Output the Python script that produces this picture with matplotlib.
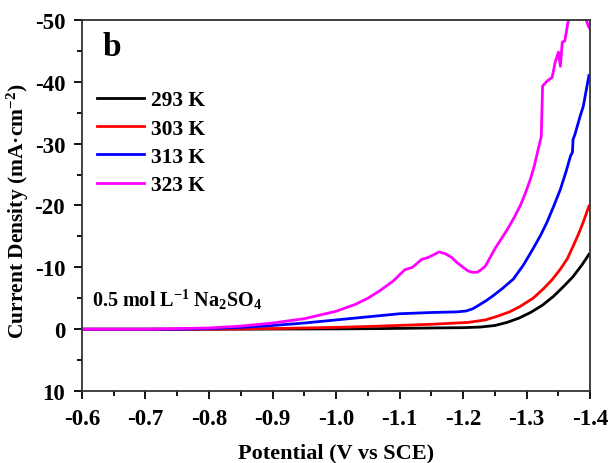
import numpy as np
import matplotlib.pyplot as plt
from matplotlib.ticker import MultipleLocator

plt.rcParams['font.family'] = 'Liberation Serif'
plt.rcParams['font.weight'] = 'bold'
plt.rcParams['axes.unicode_minus'] = False
plt.rcParams['mathtext.fontset'] = 'custom'
plt.rcParams['mathtext.rm'] = 'Liberation Serif:bold'
plt.rcParams['mathtext.bf'] = 'Liberation Serif:bold'
plt.rcParams['mathtext.it'] = 'Liberation Serif:bold'

# Data (potential in V vs SCE, current density in mA/cm2)
v_293 = [-0.6, -0.8, -1.0, -1.07, -1.15, -1.2, -1.227, -1.25, -1.269, -1.288, -1.306, -1.325, -1.342, -1.358, -1.373,
         -1.387, -1.398]
j_293 = [0.0, 0.0, -0.05, -0.1, -0.2, -0.25, -0.35, -0.6, -1.1, -1.8, -2.7, -3.9, -5.3, -6.9, -8.5, -10.4, -12.1]

v_303 = [-0.6, -0.8, -0.9, -1.0, -1.069, -1.15, -1.208, -1.235, -1.254, -1.273, -1.29, -1.31, -1.326, -1.34, -1.353,
         -1.364, -1.373, -1.382, -1.389, -1.398]
j_303 = [0.0, 0.0, -0.1, -0.3, -0.5, -0.8, -1.1, -1.5, -2.1, -2.8, -3.7, -5.0, -6.5, -8.0, -9.7, -11.4, -13.4, -15.5,
         -17.3, -19.9]

v_313 = [-0.6, -0.75, -0.8, -0.85, -0.9, -0.95, -1.0, -1.05, -1.1, -1.15, -1.19, -1.205, -1.215, -1.225, -1.236, -1.247,
         -1.262, -1.279, -1.295, -1.31, -1.322, -1.332, -1.343, -1.353, -1.362, -1.369, -1.372, -1.373, -1.376, -1.384,
         -1.389, -1.394, -1.398]
j_313 = [0.0, 0.0, -0.1, -0.3, -0.6, -1.0, -1.5, -2.0, -2.5, -2.7, -2.8, -2.95, -3.3, -3.9, -4.6, -5.4, -6.6, -8.1,
         -10.4, -13.0, -15.2, -17.3, -20.0, -22.6, -25.5, -28.0, -28.6, -30.7, -31.5, -34.4, -36.0, -38.8, -41.0]

v_323 = [-0.6, -0.7, -0.75, -0.8, -0.85, -0.9, -0.95, -1.0, -1.03, -1.05, -1.07, -1.09, -1.108, -1.12, -1.127, -1.135,
         -1.145, -1.155, -1.162, -1.172, -1.182, -1.19, -1.2, -1.208, -1.215, -1.222, -1.228, -1.235, -1.242, -1.25, -1.26,
         -1.27, -1.28, -1.29, -1.298, -1.306, -1.312, -1.317, -1.321, -1.323, -1.325, -1.332, -1.34, -1.345, -1.35,
         -1.353, -1.356, -1.36, -1.365, -1.37, -1.38, -1.388, -1.393, -1.397, -1.4]
j_323 = [0.0, 0.0, -0.1, -0.2, -0.5, -1.0, -1.7, -2.9, -4.0, -5.0, -6.3, -7.8, -9.6, -10.0, -10.6, -11.3,
         -11.6, -12.1, -12.5, -12.2, -11.6, -10.8, -10.0, -9.4, -9.2, -9.2, -9.6, -10.2, -11.5, -13.0, -14.6,
         -16.2, -18.0, -20.0, -22.0, -24.3, -26.4, -28.6, -30.3, -31.2, -39.3, -40.1, -40.7, -43.2, -44.8,
         -42.5, -46.4, -46.6, -49.6, -51.0, -52.0, -51.0, -50.2, -49.0, -48.5]

labels = ['293 K', '303 K', '313 K', '323 K']
colors = ['black', 'red', 'blue', 'magenta']

fig, ax = plt.subplots(figsize=(6.11, 4.64), dpi=100)
fig.subplots_adjust(left=0.134, right=0.966, top=0.955, bottom=0.155)

for v, j, lab, c in zip([v_293, v_303, v_313, v_323], [j_293, j_303, j_313, j_323], labels, colors):
    ax.plot(v, j, color=c, linewidth=2.0, label=lab, solid_joinstyle='round')

ax.set_xlim(-0.6, -1.4)
ax.set_ylim(10, -50)
ax.xaxis.set_major_locator(MultipleLocator(0.1))
ax.xaxis.set_minor_locator(MultipleLocator(0.05))
ax.yaxis.set_major_locator(MultipleLocator(10))
ax.yaxis.set_minor_locator(MultipleLocator(5))
ax.xaxis.set_major_formatter(plt.FuncFormatter(lambda x, p: f'{x:.1f}'))

ax.tick_params(which='major', direction='out', length=6, width=1.3, labelsize=16.5, pad=6)
ax.tick_params(which='minor', direction='out', length=3.5, width=1.3)
for lbl in ax.get_xticklabels() + ax.get_yticklabels():
    lbl.set_fontweight('bold')
for s in ax.spines.values():
    s.set_linewidth(1.3)
    s.set_color('#333333')

ax.set_xlabel('Potential (V vs SCE)', fontsize=16, fontweight='bold', labelpad=10)
ax.set_ylabel('Current Density (mA\u00b7cm$^{-2}$)', fontsize=15.5, fontweight='bold')
ax.yaxis.set_label_coords(-0.1, 0.488)

ax.text(0.04, 0.928, 'b', transform=ax.transAxes, fontsize=24, fontweight='bold', va='center')
ax.text(0.02, 0.248, '0.5 mol L$^{-1}$ Na$_{2}$SO$_{4}$', transform=ax.transAxes,
        fontsize=14.5, fontweight='bold', va='center')

leg = ax.legend(loc='upper left', bbox_to_anchor=(0.0, 0.851), frameon=False, fontsize=15.5,
                handlelength=2.2, handletextpad=0.3, labelspacing=0.38, borderaxespad=0.3)

plt.savefig('out.png', dpi=100)
